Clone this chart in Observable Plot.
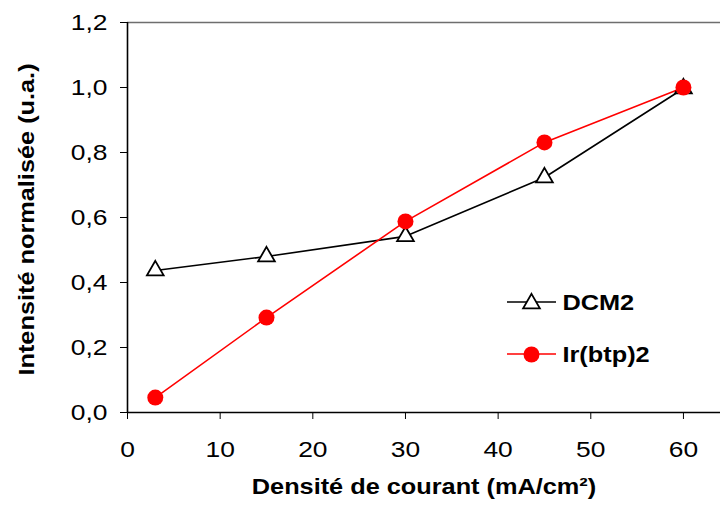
<!DOCTYPE html>
<html>
<head>
<meta charset="utf-8">
<script src="https://cdn.jsdelivr.net/npm/d3@7"></script>
<script src="https://cdn.jsdelivr.net/npm/@observablehq/plot@0.6"></script>
<style>
  html, body { margin: 0; padding: 0; background: #fff; }
  #chart svg { display: block; }
</style>
</head>
<body>
<div id="chart"></div>
<script>
const currentDensity = [3, 15, 30, 45, 60];
const dcm2 = [0.437, 0.48, 0.542, 0.723, 0.997];
const irbtp2 = [0.046, 0.292, 0.588, 0.831, 1.0];
const seriesNames = ["DCM2", "Ir(btp)2"];
const xTicks = [0, 10, 20, 30, 40, 50, 60];
const yTicks = [0, 0.2, 0.4, 0.6, 0.8, 1.0, 1.2];
const xTitle = "Densité de courant (mA/cm²)";
const yTitle = "Intensité normalisée (u.a.)";

const dcmData = currentDensity.map((x, i) => ({x, y: dcm2[i]}));
const irData = currentDensity.map((x, i) => ({x, y: irbtp2[i]}));

const font = "'Liberation Sans', Arial, sans-serif";
const fmt = d => d.toFixed(1).replace(".", ",");

const plot = Plot.plot({
  width: 720,
  height: 508,
  marginLeft: 127,
  marginRight: 0,
  marginTop: 22,
  marginBottom: 96,
  style: {fontFamily: font, fontSize: "22px", color: "#000", background: "#fff"},
  x: {domain: [0, 64], ticks: xTicks, tickSize: 7, tickPadding: 22, label: null},
  y: {domain: [0, 1.2], ticks: yTicks, tickSize: 7, tickPadding: 13, tickFormat: fmt, label: null},
  marks: [
    Plot.ruleY([1.2], {stroke: "#6e6e6e", strokeWidth: 1.6}),
    Plot.ruleX([0], {stroke: "#000", strokeWidth: 1.6}),
    Plot.ruleY([0], {stroke: "#000", strokeWidth: 1.6}),
    Plot.line(dcmData, {x: "x", y: "y", stroke: "#000", strokeWidth: 1.6}),
    Plot.dot(dcmData, {x: "x", y: "y", symbol: "triangle", r: 6.2, stroke: "#000", strokeWidth: 1.8, fill: "#fff"}),
    Plot.line(irData, {x: "x", y: "y", stroke: "#ff0000", strokeWidth: 1.6}),
    Plot.dot(irData, {x: "x", y: "y", r: 8, fill: "#ff0000", stroke: "none"}),
    Plot.text([xTitle], {frameAnchor: "bottom", dy: 81, fontWeight: "bold", fontSize: 22, fill: "#000"}),
    Plot.text([yTitle], {frameAnchor: "left", dx: -101, dy: 2, rotate: -90, textAnchor: "middle", fontWeight: "bold", fontSize: 22, fill: "#000"}),
    // legend markers & labels
    Plot.dot([seriesNames[0]], {frameAnchor: "top-left", dx: 404, dy: 281, symbol: "triangle", r: 6.2, stroke: "#000", strokeWidth: 1.8, fill: "#fff"}),
    Plot.dot([seriesNames[1]], {frameAnchor: "top-left", dx: 404, dy: 332, r: 8, fill: "#ff0000", stroke: "none"}),
    Plot.text([seriesNames[0]], {frameAnchor: "top-left", dx: 435, dy: 280, textAnchor: "start", lineAnchor: "middle", fontWeight: "bold", fontSize: 22, fill: "#000"}),
    Plot.text([seriesNames[1]], {frameAnchor: "top-left", dx: 435, dy: 332, textAnchor: "start", lineAnchor: "middle", fontWeight: "bold", fontSize: 22, fill: "#000"})
  ]
});

// legend lines (drawn beneath the legend markers)
const svg = d3.select(plot);
const legendLines = [
  {y: 22 + 280, color: "#000"},
  {y: 22 + 332, color: "#ff0000"}
];
legendLines.forEach(l => {
  svg.append("line").attr("x1", 507).attr("x2", 556).attr("y1", l.y).attr("y2", l.y)
    .attr("stroke", l.color).attr("stroke-width", 1.6);
});
svg.selectAll("g[aria-label='dot']").raise();
svg.selectAll("g[aria-label='text']").raise();

document.getElementById("chart").appendChild(plot);

// widen glyphs horizontally to match the reference's stretched lettering
function stretch(sel, f) {
  sel.each(function () {
    const L = this.getComputedTextLength();
    this.setAttribute("textLength", (L * f).toFixed(2));
    this.setAttribute("lengthAdjust", "spacingAndGlyphs");
  });
}
stretch(svg.selectAll("g[aria-label$='tick label'] text"), 1.2);
stretch(svg.selectAll("g[aria-label='text'] text"), 1.15);
</script>
</body>
</html>
